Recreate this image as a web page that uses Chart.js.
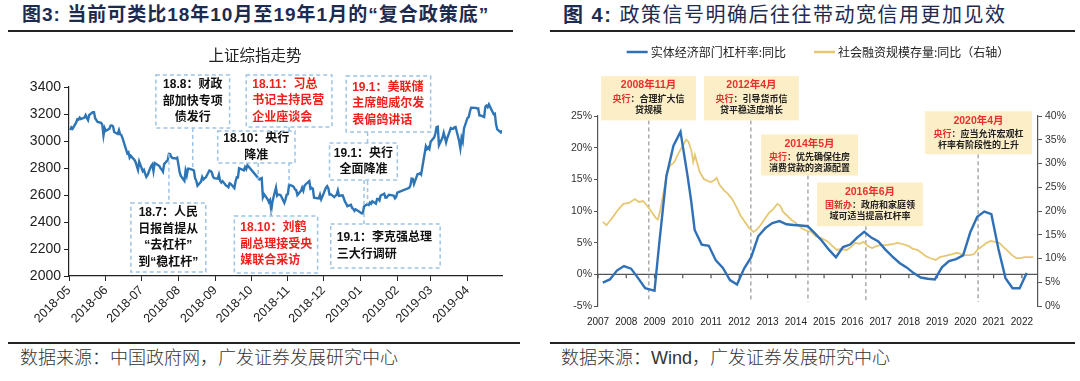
<!DOCTYPE html>
<html>
<head>
<meta charset="utf-8">
<script src="https://cdn.jsdelivr.net/npm/chart.js@4.4.1/dist/chart.umd.min.js"></script>
<style>
body { margin: 0; background: #fff; }
#page { position: relative; width: 1080px; height: 381px; overflow: hidden; font-family: 'Liberation Sans', 'Noto Sans CJK SC', sans-serif; }
.title { position: absolute; top: 3px; font-size: 19px; line-height: 24px; color: #1d2b50; white-space: nowrap; }
.rule { position: absolute; height: 2px; background: #222; }
.src { position: absolute; top: 346px; font-size: 18px; line-height: 24px; color: #333; font-weight: 300; white-space: nowrap; }
canvas { position: absolute; }
</style>
</head>
<body>
<div id="page">
  <div class="title" style="left:22px;font-weight:bold;letter-spacing:1px;">图3: 当前可类比18年10月至19年1月的“复合政策底”</div>
  <div class="title" style="left:563px;font-size:20px;letter-spacing:1.5px;"><b>图 4:</b> 政策信号明确后往往带动宽信用更加见效</div>
  <div class="rule" style="left:8px;width:505px;top:30px;"></div>
  <div class="rule" style="left:550px;width:525px;top:30px;"></div>
  <div class="rule" style="left:8px;width:512px;top:342px;"></div>
  <div class="rule" style="left:550px;width:525px;top:342px;"></div>
  <div class="src" style="left:20px;">数据来源：中国政府网，广发证券发展研究中心</div>
  <div class="src" style="left:561px;">数据来源：Wind，广发证券发展研究中心</div>
  <canvas id="leftChart" width="520" height="300" style="left:0;top:40px;"></canvas>
  <canvas id="rightChart" width="540" height="300" style="left:540px;top:40px;"></canvas>
</div>
<script>
'use strict';

Chart.defaults.font.family = "'Liberation Sans', 'Noto Sans CJK SC', sans-serif";
Chart.defaults.color = '#222';

// ---------- left chart data: 上证综指 ----------
let szDates = [
  '2018-05-02','2018-05-03','2018-05-04','2018-05-07','2018-05-08','2018-05-09','2018-05-10','2018-05-11','2018-05-14','2018-05-15','2018-05-16','2018-05-17','2018-05-18','2018-05-21','2018-05-22','2018-05-23','2018-05-24','2018-05-25','2018-05-28','2018-05-29','2018-05-30','2018-05-31',
  '2018-06-01','2018-06-04','2018-06-05','2018-06-06','2018-06-07','2018-06-08','2018-06-11','2018-06-12','2018-06-13','2018-06-14','2018-06-15','2018-06-19','2018-06-20','2018-06-21','2018-06-22','2018-06-25','2018-06-26','2018-06-27','2018-06-28','2018-06-29',
  '2018-07-02','2018-07-03','2018-07-04','2018-07-05','2018-07-06','2018-07-09','2018-07-10','2018-07-11','2018-07-12','2018-07-13','2018-07-16','2018-07-17','2018-07-18','2018-07-19','2018-07-20','2018-07-23','2018-07-24','2018-07-25','2018-07-26','2018-07-27','2018-07-30','2018-07-31',
  '2018-08-01','2018-08-02','2018-08-03','2018-08-06','2018-08-07','2018-08-08','2018-08-09','2018-08-10','2018-08-13','2018-08-14','2018-08-15','2018-08-16','2018-08-17','2018-08-20','2018-08-21','2018-08-22','2018-08-23','2018-08-24','2018-08-27','2018-08-28','2018-08-29','2018-08-30','2018-08-31',
  '2018-09-03','2018-09-04','2018-09-05','2018-09-06','2018-09-07','2018-09-10','2018-09-11','2018-09-12','2018-09-13','2018-09-14','2018-09-17','2018-09-18','2018-09-19','2018-09-20','2018-09-21','2018-09-25','2018-09-26','2018-09-27','2018-09-28',
  '2018-10-08','2018-10-09','2018-10-10','2018-10-11','2018-10-12','2018-10-15','2018-10-16','2018-10-17','2018-10-18','2018-10-19','2018-10-22','2018-10-23','2018-10-24','2018-10-25','2018-10-26','2018-10-29','2018-10-30','2018-10-31',
  '2018-11-01','2018-11-02','2018-11-05','2018-11-06','2018-11-07','2018-11-08','2018-11-09','2018-11-12','2018-11-13','2018-11-14','2018-11-15','2018-11-16','2018-11-19','2018-11-20','2018-11-21','2018-11-22','2018-11-23','2018-11-26','2018-11-27','2018-11-28','2018-11-29','2018-11-30',
  '2018-12-03','2018-12-04','2018-12-05','2018-12-06','2018-12-07','2018-12-10','2018-12-11','2018-12-12','2018-12-13','2018-12-14','2018-12-17','2018-12-18','2018-12-19','2018-12-20','2018-12-21','2018-12-24','2018-12-25','2018-12-26','2018-12-27','2018-12-28',
  '2019-01-02','2019-01-03','2019-01-04','2019-01-07','2019-01-08','2019-01-09','2019-01-10','2019-01-11','2019-01-14','2019-01-15','2019-01-16','2019-01-17','2019-01-18','2019-01-21','2019-01-22','2019-01-23','2019-01-24','2019-01-25','2019-01-28','2019-01-29','2019-01-30','2019-01-31',
  '2019-02-01','2019-02-11','2019-02-12','2019-02-13','2019-02-14','2019-02-15','2019-02-18','2019-02-19','2019-02-20','2019-02-21','2019-02-22','2019-02-25','2019-02-26','2019-02-27','2019-02-28',
  '2019-03-01','2019-03-04','2019-03-05','2019-03-06','2019-03-07','2019-03-08','2019-03-11','2019-03-12','2019-03-13','2019-03-14','2019-03-15','2019-03-18','2019-03-19','2019-03-20','2019-03-21','2019-03-22','2019-03-25','2019-03-26','2019-03-27','2019-03-28','2019-03-29',
  '2019-04-01','2019-04-02','2019-04-03','2019-04-04','2019-04-08','2019-04-09','2019-04-10','2019-04-11','2019-04-12','2019-04-15','2019-04-16','2019-04-17','2019-04-18','2019-04-19','2019-04-22','2019-04-23','2019-04-24','2019-04-25','2019-04-26','2019-04-29','2019-04-30'
];
let szClose = [
  3081, 3101, 3091, 3136, 3161, 3159, 3174, 3163, 3174, 3192, 3170, 3154, 3193, 3214, 3214, 3169, 3155, 3141, 3135, 3120, 3041, 3095,
  3075, 3091, 3114, 3115, 3110, 3067, 3052, 3080, 3050, 3044, 3022, 2908, 2916, 2876, 2890, 2860, 2844, 2813, 2786, 2847,
  2776, 2786, 2759, 2734, 2747, 2815, 2827, 2777, 2837, 2831, 2814, 2798, 2788, 2773, 2829, 2859, 2905, 2903, 2882, 2874, 2870, 2876,
  2825, 2769, 2741, 2705, 2779, 2745, 2795, 2795, 2786, 2781, 2724, 2705, 2669, 2699, 2733, 2715, 2724, 2730, 2781, 2777, 2769, 2738, 2725,
  2721, 2750, 2705, 2692, 2703, 2670, 2665, 2657, 2687, 2682, 2652, 2700, 2731, 2730, 2798, 2782, 2807, 2792, 2821,
  2716, 2721, 2725, 2584, 2606, 2568, 2547, 2562, 2486, 2550, 2655, 2595, 2604, 2603, 2598, 2542, 2568, 2603,
  2606, 2677, 2666, 2659, 2641, 2636, 2599, 2631, 2655, 2632, 2668, 2680, 2703, 2646, 2652, 2646, 2580, 2576, 2575, 2602, 2568, 2588,
  2655, 2666, 2649, 2605, 2606, 2584, 2594, 2602, 2634, 2594, 2598, 2576, 2550, 2536, 2517, 2527, 2504, 2498, 2483, 2494,
  2465, 2464, 2515, 2533, 2526, 2544, 2535, 2554, 2536, 2570, 2570, 2560, 2596, 2610, 2580, 2581, 2592, 2602, 2597, 2594, 2575, 2585,
  2618, 2653, 2671, 2721, 2720, 2682, 2755, 2755, 2761, 2751, 2804, 2961, 2942, 2954, 2941,
  2994, 3027, 3055, 3103, 3106, 2969, 3026, 3061, 3027, 2990, 3022, 3096, 3091, 3091, 3101, 3104, 2998, 2946, 3023, 2995, 3091,
  3171, 3177, 3217, 3247, 3245, 3240, 3242, 3190, 3189, 3178, 3254, 3263, 3251, 3271, 3216, 3198, 3202, 3124, 3086, 3063, 3078
];
let monthTicks = ['2018-05','2018-06','2018-07','2018-08','2018-09','2018-10','2018-11','2018-12','2019-01','2019-02','2019-03','2019-04'];
let szTicks = [2000, 2200, 2400, 2600, 2800, 3000, 3200, 3400];

// ---------- right chart data ----------
let yearTicks = [2007, 2008, 2009, 2010, 2011, 2012, 2013, 2014, 2015, 2016, 2017, 2018, 2019, 2020, 2021, 2022];
let levYears = [2007.17, 2007.42, 2007.67, 2007.92, 2008.17, 2008.42, 2008.67, 2008.92, 2009.0, 2009.17, 2009.42, 2009.67, 2009.92, 2010.17, 2010.3, 2010.42, 2010.67, 2010.92,
  2011.17, 2011.42, 2011.67, 2011.92, 2012.17, 2012.42, 2012.67, 2012.92, 2013.17, 2013.42, 2013.67, 2013.92, 2014.17, 2014.42, 2014.67, 2014.92,
  2015.17, 2015.42, 2015.67, 2015.92, 2016.17, 2016.42, 2016.67, 2016.92, 2017.17, 2017.42, 2017.67, 2017.92, 2018.17, 2018.42, 2018.67, 2018.92,
  2019.17, 2019.42, 2019.67, 2019.92, 2020.17, 2020.42, 2020.67, 2020.92, 2021.17, 2021.42, 2021.67, 2021.92, 2022.17];
let levValues = [-1.3, -0.8, 0.6, 1.3, 0.9, -0.6, -2.2, -2.5, -2.6, 5.0, 15.5, 20.3, 22.5, 15.5, 11.5, 7.0, 4.7, 4.5,
  2.2, 1.0, -0.9, -1.6, 0.9, 2.7, 6.0, 7.3, 8.1, 8.4, 7.9, 7.8, 7.7, 7.6, 6.5, 5.3,
  3.9, 2.7, 4.3, 4.7, 5.8, 6.7, 5.8, 5.2, 3.9, 2.8, 1.8, 1.1, 0.2, -0.5, -0.7, -0.8,
  1.1, 2.1, 2.4, 3.0, 6.6, 9.1, 9.9, 9.5, 4.0, -0.6, -2.2, -2.2, 0.2];
let tsfYears = [2007.17, 2007.3, 2007.4, 2007.5, 2007.7, 2007.9, 2008.1, 2008.3, 2008.45, 2008.6, 2008.75, 2008.9, 2009.05, 2009.12, 2009.2, 2009.3, 2009.45, 2009.55, 2009.7, 2009.85,
  2010.0, 2010.12, 2010.2, 2010.3, 2010.37, 2010.43, 2010.5, 2010.6, 2010.75, 2010.9, 2011.0, 2011.1, 2011.2, 2011.3, 2011.45, 2011.6, 2011.75, 2011.9,
  2012.05, 2012.2, 2012.35, 2012.5, 2012.6, 2012.75, 2012.9, 2013.05, 2013.2, 2013.35, 2013.45, 2013.55, 2013.7, 2013.85, 2014.0, 2014.2, 2014.4, 2014.55, 2014.7, 2014.9,
  2015.1, 2015.3, 2015.45, 2015.6, 2015.8, 2015.95, 2016.1, 2016.25, 2016.4, 2016.55, 2016.7, 2016.85, 2017.0, 2017.2, 2017.4, 2017.6, 2017.8, 2018.0, 2018.15, 2018.3, 2018.45, 2018.6, 2018.75, 2018.95,
  2019.1, 2019.25, 2019.4, 2019.55, 2019.7, 2019.85, 2020.0, 2020.15, 2020.3, 2020.45, 2020.6, 2020.75, 2020.9, 2021.05, 2021.2, 2021.35, 2021.5, 2021.65, 2021.8, 2021.95, 2022.1, 2022.25, 2022.4];
let tsfValues = [17.7, 17.0, 17.8, 18.5, 20.2, 21.5, 21.7, 22.5, 21.9, 22.1, 21.0, 19.8, 18.5, 18.2, 20.0, 23.4, 28.2, 29.5, 30.3, 32.2,
  33.7, 35.0, 34.6, 32.8, 30.3, 31.8, 30.3, 28.2, 26.7, 26.3, 26.1, 26.4, 27.0, 25.5, 24.4, 23.6, 22.5, 20.8,
  19.0, 17.7, 16.4, 15.6, 16.0, 17.0, 18.3, 19.6, 20.4, 21.5, 21.1, 19.8, 19.0, 18.1, 17.5, 16.4, 15.8, 15.6, 14.7, 14.3,
  13.7, 12.6, 11.8, 12.0, 11.8, 12.4, 13.3, 13.1, 13.5, 12.6, 12.2, 12.6, 12.8, 12.8, 13.0, 13.3, 13.0, 12.6, 12.0, 11.8, 11.2, 10.5, 10.1, 9.7,
  10.3, 10.5, 10.7, 10.9, 11.2, 10.9, 10.7, 10.7, 10.9, 12.0, 12.6, 13.3, 13.7, 13.5, 13.3, 12.4, 11.6, 10.7, 10.1, 10.1, 10.3, 10.3, 10.3];
let levTicks = [-5, 0, 5, 10, 15, 20, 25];
let tsfTicks = [0, 5, 10, 15, 20, 25, 30, 35, 40];

// ---------- helpers ----------
const base = Date.UTC(2018, 4, 1);
function dayOf(s) {
  let p = s.split('-').map(Number);
  return (Date.UTC(p[0], p[1] - 1, p[2] || 1) - base) / 86400000;
}

// ---------- left annotations ----------
let leftNotes = [
  { box: ['2018-07-13', '2018-09-13', 3489, 3096], link: ['2018-08-13', 3096, 2786], color: '#111', align: 'center', lines: ['18.8：财政', '部加快专项', '债发行'] },
  { box: ['2018-09-27', '2018-12-08', 3489, 3104], link: ['2018-11-02', 3104, 2677], color: '#f0201c', align: 'left', lines: ['18.11：习总', '书记主持民营', '企业座谈会'] },
  { box: ['2018-09-03', '2018-11-07', 3074, 2837], link: ['2018-10-07', 2837, 2716], color: '#111', align: 'center', lines: ['18.10：央行', '降准'] },
  { box: ['2018-06-22', '2018-08-24', 2541, 2030], link: ['2018-07-24', 2905, 2541], color: '#111', align: 'center', lines: ['18.7：人民', '日报首提从', '“去杠杆”', '到“稳杠杆”'] },
  { box: ['2018-09-17', '2018-11-26', 2444, 2022], link: ['2018-10-18', 2486, 2444], color: '#f0201c', align: 'left', lines: ['18.10：刘鹤', '副总理接受央', '媒联合采访'] },
  { box: ['2018-12-20', '2019-03-01', 3481, 3067], link: ['2019-01-07', 3067, 2533], color: '#f0201c', align: 'left', lines: ['19.1：美联储', '主席鲍威尔发', '表偏鸽讲话'] },
  { box: ['2018-12-06', '2019-02-01', 2985, 2711], link: ['2019-01-04', 2711, 2515], color: '#111', align: 'center', lines: ['19.1：央行', '全面降准'] },
  { box: ['2018-12-07', '2019-03-09', 2385, 2059], link: ['2019-01-04', 2464, 2385], color: '#111', align: 'left', lines: ['19.1：李克强总理', '三大行调研'] }
];

const leftNotesPlugin = {
  id: 'leftNotes',
  afterDatasetsDraw(chart) {
    const ctx = chart.ctx;
    const x = chart.scales.x, y = chart.scales.y;
    const area = chart.chartArea;
    ctx.save();
    ctx.fillStyle = '#222';
    ctx.font = "15.5px 'Noto Sans CJK SC'";
    ctx.textAlign = 'center';
    ctx.textBaseline = 'middle';
    ctx.fillText('上证综指走势', area.left + 186, 15);

    ctx.setLineDash([4, 3]);
    ctx.strokeStyle = '#9dc3e6';
    ctx.lineWidth = 1.5;
    leftNotes.forEach(n => {
      let px = x.getPixelForValue(dayOf(n.link[0]));
      ctx.beginPath();
      ctx.moveTo(px, y.getPixelForValue(n.link[1]));
      ctx.lineTo(px, y.getPixelForValue(n.link[2]));
      ctx.stroke();
    });
    leftNotes.forEach(n => {
      let x0 = x.getPixelForValue(dayOf(n.box[0]));
      let x1 = x.getPixelForValue(dayOf(n.box[1]));
      let y0 = y.getPixelForValue(n.box[2]);
      let y1 = y.getPixelForValue(n.box[3]);
      ctx.fillStyle = '#fff';
      ctx.fillRect(x0, y0, x1 - x0, y1 - y0);
      ctx.strokeRect(x0, y0, x1 - x0, y1 - y0);
      ctx.fillStyle = n.color;
      ctx.font = "bold 12px 'Liberation Sans', 'Noto Sans CJK SC'";
      ctx.textBaseline = 'middle';
      let lh = 16.5;
      let top = (y0 + y1) / 2 - lh * (n.lines.length - 1) / 2;
      n.lines.forEach((t, i) => {
        if (n.align === 'left') {
          ctx.textAlign = 'left';
          ctx.fillText(t, x0 + 6, top + i * lh);
        } else {
          ctx.textAlign = 'center';
          ctx.fillText(t, (x0 + x1) / 2, top + i * lh);
        }
      });
    });
    ctx.restore();
  }
};

new Chart(document.getElementById('leftChart'), {
  type: 'line',
  data: {
    datasets: [{
      label: '上证综指',
      data: szDates.map((d, i) => ({ x: dayOf(d), y: szClose[i] })),
      borderColor: '#2e75b6',
      borderWidth: 2.4,
      pointRadius: 0,
      tension: 0
    }]
  },
  options: {
    responsive: false,
    animation: false,
    layout: { padding: { left: 9, right: 18, top: 47, bottom: 0 } },
    plugins: { legend: { display: false }, tooltip: { enabled: false } },
    scales: {
      x: {
        type: 'linear',
        min: 0,
        max: dayOf('2019-04-30'),
        afterBuildTicks: s => { s.ticks = monthTicks.map(m => ({ value: dayOf(m + '-01') })); },
        afterFit: s => { s.height = 64; },
        grid: { drawOnChartArea: false, tickLength: 5, color: '#222' },
        border: { color: '#222', width: 1.2 },
        ticks: {
          autoSkip: false, maxRotation: 45, minRotation: 45, padding: 2,
          font: { size: 12.5 }, color: '#222',
          callback: (v, i) => monthTicks[i]
        }
      },
      y: {
        min: 2000, max: 3400,
        afterBuildTicks: s => { s.ticks = szTicks.map(v => ({ value: v })); },
        afterFit: s => { s.width = 60; },
        grid: { drawOnChartArea: false, tickLength: 5, color: '#222' },
        border: { color: '#222', width: 1.2 },
        ticks: { font: { size: 14 }, color: '#222', padding: 3, callback: v => String(v) }
      }
    }
  },
  plugins: [leftNotesPlugin]
});

// ---------- right annotations ----------
const RED = '#e8312f', INK = '#222';
let rightNotes = [
  { box: [2007.11, 2010.47, 31.3, 24.3], line: [2008.8, 24.3], lines: [[['2008年11月', RED]], [['央行', RED], ['：合理扩大信', INK]], [['贷规模', INK]]] },
  { box: [2010.75, 2014.11, 31.3, 24.3], line: [2012.41, 24.3], lines: [[['2012年4月', RED]], [['央行', RED], ['：引导货币信', INK]], [['贷平稳适度增长', INK]]] },
  { box: [2012.77, 2016.2, 22.1, 15.6], line: [2014.43, 15.6], lines: [[['2014年5月', RED]], [['央行', RED], ['：优先确保住房', INK]], [['消费贷款的资源配置', INK]]] },
  { box: [2014.75, 2018.5, 14.5, 7.6], line: [2016.48, 7.6], lines: [[['2016年6月', RED]], [['国新办', RED], ['：政府和家庭领', INK]], [['域可适当提高杠杆率', INK]]] },
  { box: [2018.57, 2022.36, 25.75, 18.96], line: [2020.45, 18.96], lines: [[['2020年4月', RED]], [['央行', RED], ['：应当允许宏观杠', INK]], [['杆率有阶段性的上升', INK]]] }
];

const rightNotesPlugin = {
  id: 'rightNotes',
  beforeDatasetsDraw(chart) {
    const ctx = chart.ctx;
    const x = chart.scales.x, y = chart.scales.y;
    const area = chart.chartArea;
    ctx.save();
    // zero line with year ticks
    let zy = y.getPixelForValue(0);
    ctx.strokeStyle = '#555';
    ctx.lineWidth = 1.2;
    ctx.beginPath();
    ctx.moveTo(area.left, zy);
    ctx.lineTo(area.right, zy);
    yearTicks.forEach(t => {
      let px = x.getPixelForValue(t);
      ctx.moveTo(px, zy);
      ctx.lineTo(px, zy + 4);
    });
    ctx.stroke();
    // dashed markers
    ctx.setLineDash([4, 3]);
    ctx.strokeStyle = '#7f7f7f';
    ctx.lineWidth = 1;
    rightNotes.forEach(n => {
      let px = x.getPixelForValue(n.line[0]);
      ctx.beginPath();
      ctx.moveTo(px, y.getPixelForValue(n.line[1]));
      ctx.lineTo(px, area.bottom - 4);
      ctx.stroke();
    });
    ctx.restore();
  },
  afterDatasetsDraw(chart) {
    const ctx = chart.ctx;
    const x = chart.scales.x, y = chart.scales.y;
    ctx.save();
    rightNotes.forEach(n => {
      let x0 = x.getPixelForValue(n.box[0]);
      let x1 = x.getPixelForValue(n.box[1]);
      let y0 = y.getPixelForValue(n.box[2]);
      let y1 = y.getPixelForValue(n.box[3]);
      ctx.fillStyle = '#fcefc8';
      ctx.fillRect(x0, y0, x1 - x0, y1 - y0);
      ctx.textBaseline = 'middle';
      ctx.textAlign = 'left';
      let mid = (x0 + x1) / 2;
      let offs = [9.5, 22, 33.5];
      n.lines.forEach((segs, i) => {
        ctx.font = i === 0 ? "bold 10.5px 'Liberation Sans', 'Noto Sans CJK SC'" : "bold 9px 'Noto Sans CJK SC'";
        let w = segs.reduce((a, s) => a + ctx.measureText(s[0]).width, 0);
        let cx = mid - w / 2;
        segs.forEach(s => {
          ctx.fillStyle = s[1];
          ctx.fillText(s[0], cx, y0 + offs[i]);
          cx += ctx.measureText(s[0]).width;
        });
      });
    });
    // legend
    ctx.font = "12px 'Noto Sans CJK SC'";
    ctx.textBaseline = 'middle';
    let items = chart.data.datasets.map(d => ({ label: d.label, color: d.borderColor, w: ctx.measureText(d.label).width }));
    let total = items.reduce((a, it) => a + 24 + it.w, 0) + 28;
    let cx = (chart.chartArea.left + chart.chartArea.right) / 2 - total / 2;
    items.forEach(it => {
      ctx.strokeStyle = it.color;
      ctx.lineWidth = 2.5;
      ctx.beginPath();
      ctx.moveTo(cx, 12);
      ctx.lineTo(cx + 21, 12);
      ctx.stroke();
      ctx.fillStyle = '#222';
      ctx.fillText(it.label, cx + 24, 12);
      cx += 24 + it.w + 28;
    });
    ctx.restore();
  }
};

new Chart(document.getElementById('rightChart'), {
  type: 'line',
  data: {
    datasets: [{
      label: '实体经济部门杠杆率:同比',
      data: levYears.map((t, i) => ({ x: t, y: levValues[i] })),
      borderColor: '#2f70b6',
      borderWidth: 2.4,
      pointRadius: 0,
      tension: 0,
      yAxisID: 'y'
    }, {
      label: '社会融资规模存量:同比（右轴）',
      data: tsfYears.map((t, i) => ({ x: t, y: tsfValues[i] })),
      borderColor: '#e6c872',
      borderWidth: 1.8,
      pointRadius: 0,
      tension: 0,
      yAxisID: 'y2'
    }]
  },
  options: {
    responsive: false,
    animation: false,
    layout: { padding: { left: 0, right: 0, top: 76, bottom: 0 } },
    plugins: { legend: { display: false }, tooltip: { enabled: false } },
    scales: {
      x: {
        type: 'linear',
        min: 2007, max: 2022.57,
        afterBuildTicks: s => { s.ticks = yearTicks.map(v => ({ value: v })); },
        afterFit: s => { s.height = 34; },
        grid: { display: false, drawTicks: false },
        border: { display: false },
        ticks: { autoSkip: false, maxRotation: 0, padding: 10, font: { size: 10 }, color: '#222', callback: v => String(v) }
      },
      y: {
        position: 'left',
        min: -5, max: 25,
        afterBuildTicks: s => { s.ticks = levTicks.map(v => ({ value: v })); },
        afterFit: s => { s.width = 58; },
        grid: { drawOnChartArea: false, tickLength: 4, color: '#555' },
        border: { color: '#555', width: 1.2 },
        ticks: { font: { size: 10.5 }, color: '#333', padding: 2, callback: v => v + '%' }
      },
      y2: {
        position: 'right',
        min: 0, max: 40,
        afterBuildTicks: s => { s.ticks = tsfTicks.map(v => ({ value: v })); },
        afterFit: s => { s.width = 42; },
        grid: { drawOnChartArea: false, tickLength: 4, color: '#555' },
        border: { color: '#555', width: 1.2 },
        ticks: { font: { size: 10.5 }, color: '#333', padding: 3, callback: v => v + '%' }
      }
    }
  },
  plugins: [rightNotesPlugin]
});
</script>
</body>
</html>
